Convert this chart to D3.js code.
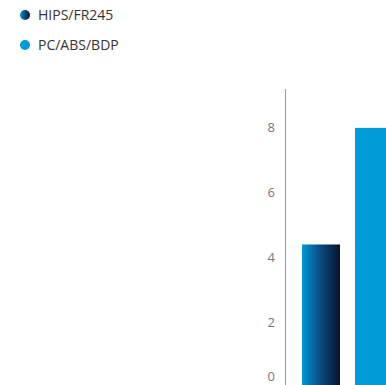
<!DOCTYPE html>
<html>
<head>
<meta charset="utf-8">
<script src="https://cdn.jsdelivr.net/npm/d3@7"></script>
<style>
  html, body { margin: 0; padding: 0; background: #fff; overflow: hidden; }
  svg { display: block; font-family: "Open Sans", "Noto Sans", sans-serif; }
</style>
</head>
<body>
<svg id="chart" width="386" height="385"></svg>
<script>
// Series and values
const seriesNames = ["HIPS/FR245", "PC/ABS/BDP"];
const seriesValues = [4.4, 8];
const tickValues = [0, 2, 4, 6, 8];

const svg = d3.select("#chart");
const W = 386, H = 385;

// Gradient used by the first series (bar and legend marker)
const defs = svg.append("defs");
const grad = defs.append("linearGradient")
  .attr("id", "navyGrad")
  .attr("x1", "0%").attr("y1", "0%").attr("x2", "100%").attr("y2", "0%");
grad.append("stop").attr("offset", "0%").attr("stop-color", "#0099d6");
grad.append("stop").attr("offset", "45%").attr("stop-color", "#0b4f85");
grad.append("stop").attr("offset", "100%").attr("stop-color", "#07132c");

const fills = ["url(#navyGrad)", "#009bd9"];

// Scales
const y = d3.scaleLinear().domain([0, 9.2]).range([387, 89]);
const x = d3.scaleBand().domain(seriesNames).range([302, 393])
  .paddingInner(0.283).paddingOuter(0);

// Bars
svg.append("g").selectAll("rect")
  .data(seriesNames.map((n, i) => ({ name: n, value: seriesValues[i], fill: fills[i] })))
  .join("rect")
  .attr("x", d => x(d.name))
  .attr("width", x.bandwidth())
  .attr("y", d => y(d.value))
  .attr("height", d => y(0) - y(d.value))
  .attr("fill", d => d.fill);

// Y axis line
const axisX = 285;
svg.append("line")
  .attr("x1", axisX + 0.5).attr("x2", axisX + 0.5)
  .attr("y1", y.range()[1]).attr("y2", H)
  .attr("stroke", "#9a9a9a").attr("stroke-width", 1);

// Tick labels (kept inside the visible area at the bottom)
svg.append("g").selectAll("text")
  .data(tickValues)
  .join("text")
  .attr("x", axisX - 10)
  .attr("y", d => Math.min(y(d), H - 9))
  .attr("dy", "0.35em")
  .attr("text-anchor", "end")
  .attr("font-size", 13)
  .attr("fill", "#777")
  .text(d => d);

// Legend
const legend = svg.append("g").selectAll("g")
  .data(seriesNames)
  .join("g")
  .attr("transform", (d, i) => `translate(25, ${15 + i * 30})`);
legend.append("circle")
  .attr("r", 5)
  .attr("fill", (d, i) => fills[i]);
legend.append("text")
  .attr("x", 13)
  .attr("dy", "0.35em")
  .attr("font-size", 14)
  .attr("fill", "#333")
  .text(d => d);
</script>
</body>
</html>
